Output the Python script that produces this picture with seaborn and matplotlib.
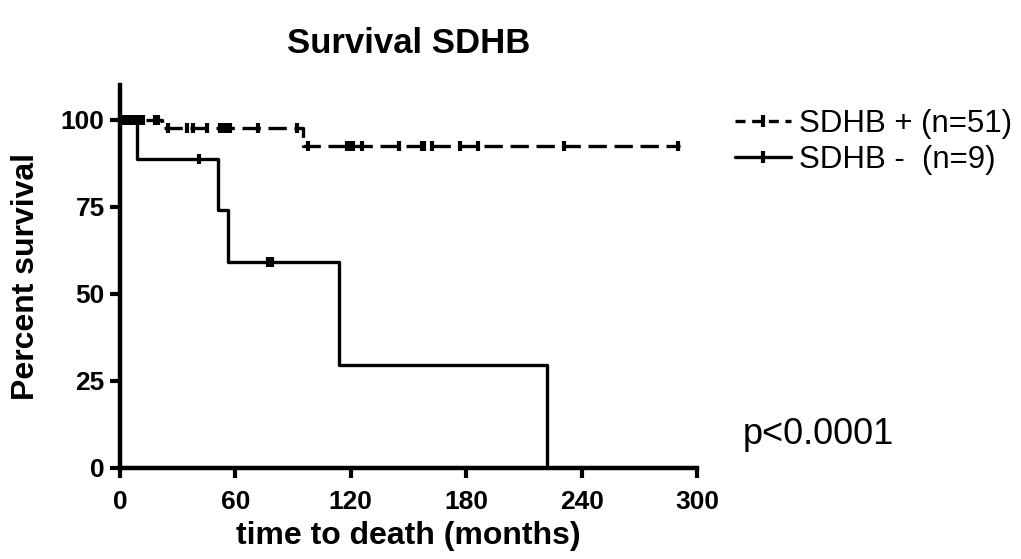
import pandas as pd
import matplotlib
matplotlib.use("Agg")
import matplotlib.pyplot as plt
from matplotlib.lines import Line2D
import seaborn as sns

# step curves (months, percent survival)
pos_t = [0, 22, 95, 291]
pos_s = [100, 97.8, 92.4, 92.4]
neg_t = [0, 9, 51, 56, 114, 222]
neg_s = [100, 88.9, 74.1, 59.3, 29.6, 0]

# censored observations
pos_cens_t = [1, 2, 3, 4, 5, 6, 8, 10, 12, 18, 20,
              25, 35, 38, 45, 52, 54, 56, 57, 72, 92,
              98, 118, 119, 121, 126, 145, 157, 158, 162, 177, 186, 231, 290]
pos_cens_s = [100] * 11 + [97.8] * 10 + [92.4] * 13
neg_cens_t = [41, 77, 79]
neg_cens_s = [88.9, 59.3, 59.3]

labels = ["SDHB + (n=51)", "SDHB -  (n=9)"]

sns.set_style("ticks")
plt.rcParams['font.family'] = ['Liberation Sans', 'DejaVu Sans']
for k in ["text.color", "axes.labelcolor", "xtick.color", "ytick.color", "axes.edgecolor"]:
    plt.rcParams[k] = "black"

curves = pd.DataFrame({
    "t": pos_t + neg_t,
    "s": pos_s + neg_s,
    "grp": [labels[0]] * len(pos_t) + [labels[1]] * len(neg_t),
})
cens = pd.DataFrame({
    "t": pos_cens_t + neg_cens_t,
    "s": pos_cens_s + neg_cens_s,
})

fig = plt.figure(figsize=(10.21, 5.59), dpi=100)
ax = fig.add_axes([0.1175, 0.1628, 0.5652, 0.685])

sns.lineplot(data=curves, x="t", y="s", style="grp", estimator=None,
             drawstyle="steps-post", color="black", lw=2.4,
             dashes={labels[0]: (5.5, 2.3), labels[1]: ""},
             legend=False, ax=ax)
sns.scatterplot(data=cens, x="t", y="s", marker="|", color="black",
                s=60, linewidth=3, legend=False, ax=ax)

# legend handles: line with a tick mark
h1 = Line2D([], [], color="black", lw=2.4, ls=(0, (3, 2)), marker="|",
            markersize=8, markeredgewidth=3)
h2 = Line2D([], [], color="black", lw=2.4, marker="|",
            markersize=8, markeredgewidth=3)
fig.legend([h1, h2], labels,
           loc="upper left", bbox_to_anchor=(0.72, 0.805), frameon=False,
           fontsize=22.5, handlelength=1.8, handletextpad=0.25,
           labelspacing=0.2, borderpad=0, borderaxespad=0)

ax.set_xlim(0, 300)
ax.set_ylim(0, 110)
ax.set_xticks([0, 60, 120, 180, 240, 300])
ax.set_yticks([0, 25, 50, 75, 100])
sns.despine(ax=ax)
for sp in ["left", "bottom"]:
    ax.spines[sp].set_linewidth(3.2)
ax.tick_params(width=3, length=7, labelsize=19)
ax.tick_params(axis="x", pad=9)
ax.tick_params(axis="y", pad=4)
for lab in ax.get_xticklabels() + ax.get_yticklabels():
    lab.set_fontweight("bold")
ax.set_xlabel("time to death (months)", fontsize=23, fontweight="bold", labelpad=5)
ax.set_ylabel("Percent survival", fontsize=23, fontweight="bold", labelpad=14)
ax.set_title("Survival SDHB", fontsize=25, fontweight="bold", pad=23)
fig.text(0.7277, 0.2055, "p<0.0001", fontsize=26, va="baseline")

fig.savefig("out.png", dpi=100)
